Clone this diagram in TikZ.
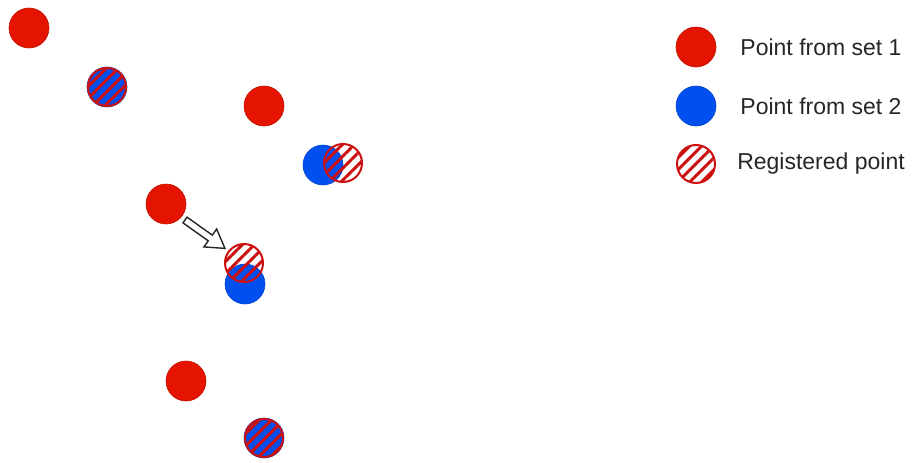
\documentclass[tikz,border=0pt]{standalone}
\usepackage{fontspec}
\setmainfont{Liberation Sans}
\usetikzlibrary{patterns.meta}
\definecolor{pred}{HTML}{E51400}
\definecolor{pblue}{HTML}{0050EF}
\definecolor{hred}{HTML}{CC1010}
\definecolor{txt}{HTML}{262626}
\tikzset{
  setone/.style={circle, minimum size=40pt, inner sep=0pt, fill=pred, draw=pred!85!black, line width=0.6pt},
  settwo/.style={circle, minimum size=40pt, inner sep=0pt, fill=pblue, draw=pblue!85!black, line width=0.6pt},
  regpt/.style={circle, minimum size=38pt, inner sep=0pt, draw=hred, line width=2pt,
     pattern={Lines[angle=45,distance=8.5pt,line width=3pt]}, pattern color=hred},
  legtext/.style={font=\fontsize{23pt}{27pt}\selectfont, text=txt, anchor=center},
  blockarrow/.style={fill=white, draw=black!85, line width=1.4pt, line join=miter}
}
\begin{document}
\begin{tikzpicture}[x=1pt,y=-1pt]
\useasboundingbox (0,0) rectangle (913,463);
% set 1 points
\node[setone] (r1) at (29,28) {};
\node[setone] (r2) at (264,106) {};
\node[setone] (r3) at (166,204) {};
\node[setone] (r4) at (186,381) {};
% set 2 points
\node[settwo] (b1) at (107,87) {};
\node[settwo] (b2) at (323,165) {};
\node[settwo] (b3) at (245,284) {};
\node[settwo] (b4) at (264,438) {};
% registered points
\node[regpt] (g1) at (107,87) {};
\node[regpt] (g2) at (343,163) {};
\node[regpt] (g3) at (244,263) {};
\node[regpt] (g4) at (264,438) {};
% arrow
\coordinate (a1) at (185,220);
\begin{scope}[shift={(a1)}, rotate=-35.4]
\draw[blockarrow] (0,-3.5) -- (31,-3.5) -- (31,-11) -- (49,0) -- (31,11) -- (31,3.5) -- (0,3.5) -- cycle;
\end{scope}
% legend
\node[setone] (l1) at (696,47) {};
\node[settwo] (l2) at (696,106) {};
\node[regpt] (l3) at (696,164) {};
\node[legtext] (t1) at (821,47) {Point from set 1};
\node[legtext] (t2) at (821,106) {Point from set 2};
\node[legtext] (t3) at (821,164) {Registered point};
\end{tikzpicture}
\end{document}
